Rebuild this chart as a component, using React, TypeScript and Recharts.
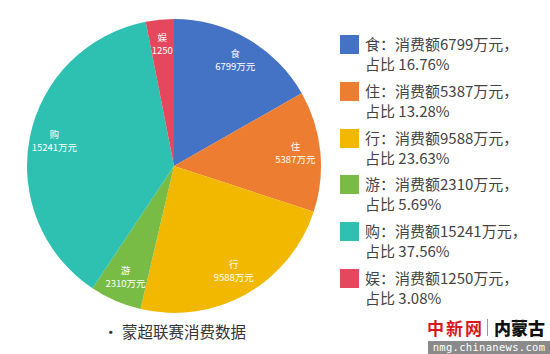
import React from "react";
import { PieChart, Pie, Cell } from "recharts";

const categories = ["食", "住", "行", "游", "购", "娱"];
const amounts = [6799, 5387, 9588, 2310, 15241, 1250];
const shares = ["16.76%", "13.28%", "23.63%", "5.69%", "37.56%", "3.08%"];
const sliceLabels = ["6799万元", "5387万元", "9588万元", "2310万元", "15241万元", "1250"];
const colors = ["#4472C4", "#ED7D31", "#F2B800", "#78BB45", "#2EC1B1", "#E5475C"];

const FONT = '"Noto Sans CJK SC", "Noto Sans", sans-serif';
const RAD = Math.PI / 180;

const data = categories.map((c, i) => ({ name: c, value: amounts[i], label: sliceLabels[i] }));

const renderLabel = (p: any) => {
  const r = p.outerRadius * 0.83;
  const x = p.cx + r * Math.cos(-p.midAngle * RAD);
  const y = p.cy + r * Math.sin(-p.midAngle * RAD);
  return (
    <text x={x} y={y} fill="#fff" textAnchor="middle" fontSize={9.5} fontFamily={FONT}>
      <tspan x={x} dy={-4}>{p.payload.name}</tspan>
      <tspan x={x} dy={13}>{p.payload.label}</tspan>
    </text>
  );
};

export default function App() {
  return (
    <div style={{ position: "absolute", left: 0, top: 0, width: 550, height: 354, background: "#fff", fontFamily: FONT }}>
      <PieChart width={550} height={354} margin={{ top: 0, right: 0, bottom: 0, left: 0 }} style={{ position: "absolute", left: 0, top: 0 }}>
        <Pie
          data={data}
          dataKey="value"
          cx={174}
          cy={166}
          outerRadius={147}
          startAngle={90}
          endAngle={-270}
          stroke="none"
          label={renderLabel}
          labelLine={false}
          isAnimationActive={false}
        >
          {data.map((d, i) => (
            <Cell key={d.name} fill={colors[i]} />
          ))}
        </Pie>
      </PieChart>

      {categories.map((c, i) => (
        <div key={c} style={{ position: "absolute", left: 340, top: 35 + i * 46.8 }}>
          <div style={{ position: "absolute", left: 0, top: 0, width: 19, height: 19, background: colors[i] }} />
          <div style={{ position: "absolute", left: 25, top: -1, whiteSpace: "nowrap", fontSize: 15, lineHeight: "20px", color: "#444" }}>
            <div>{`${c}：消费额${amounts[i]}万元，`}</div>
            <div>{`占比 ${shares[i]}`}</div>
          </div>
        </div>
      ))}

      <div style={{ position: "absolute", left: 103, top: 320, fontSize: 15.5, color: "#333", whiteSpace: "nowrap" }}>
        • 蒙超联赛消费数据
      </div>

      <div style={{ position: "absolute", left: 427, top: 315, fontSize: 17, fontWeight: 700, color: "#D7191F", whiteSpace: "nowrap", letterSpacing: 2 }}>
        中新网
      </div>
      <div style={{ position: "absolute", left: 487, top: 319, width: 1, height: 17, background: "#999" }} />
      <div style={{ position: "absolute", left: 494, top: 315, fontSize: 17, fontWeight: 900, color: "#111", whiteSpace: "nowrap" }}>
        内蒙古
      </div>
      <div style={{ position: "absolute", left: 428, top: 341, width: 122, height: 13, background: "#8a8a8a", color: "#fff", fontSize: 10.5, lineHeight: "13px", textAlign: "center", fontFamily: '"DejaVu Sans Mono", monospace', letterSpacing: 0.3 }}>
        nmg.chinanews.com
      </div>
    </div>
  );
}
